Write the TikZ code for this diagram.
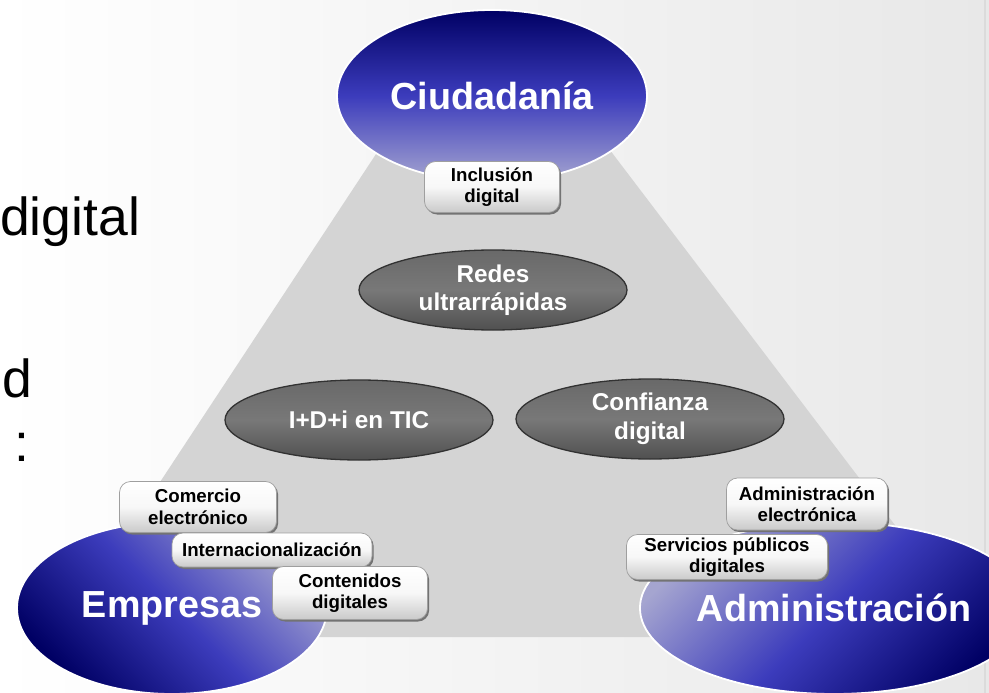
\documentclass[tikz,border=0pt]{standalone}
\usepackage{fontspec}
\setmainfont{Liberation Sans}
\usetikzlibrary{shapes.geometric}
\definecolor{navy}{RGB}{0,0,100}
\definecolor{midblue}{RGB}{60,60,188}
\definecolor{lav}{RGB}{165,165,208}
\definecolor{trapgray}{RGB}{212,212,212}
\definecolor{bgright}{RGB}{232,232,232}
\definecolor{darkfill}{RGB}{105,105,105}
\definecolor{darkfillb}{RGB}{80,80,80}
\definecolor{darkrim}{RGB}{50,50,50}
\tikzset{
  blueell/.style={ellipse, draw=white, line width=1.8pt, minimum width=310pt, minimum height=172pt,
    inner sep=0pt, text=white, font=\bfseries\fontsize{37.7}{40}\selectfont},
  darkell/.style={ellipse, draw=darkrim, line width=1.3pt, minimum width=268pt, minimum height=80pt,
    inner sep=0pt, top color=darkfill, bottom color=darkfillb, middle color=darkfill!90!white,
    text=white, align=center, font=\bfseries\fontsize{24.3}{28.5}\selectfont},
  lightbox/.style={rectangle, rounded corners=11pt, draw=gray!75, line width=0.7pt,
    top color=white, bottom color=gray!42, middle color=gray!6, inner sep=0pt,
    align=center, text=black, font=\bfseries\fontsize{18.7}{21.5}\selectfont,
    preaction={fill=black!55, rounded corners=11pt, transform canvas={xshift=1.6pt,yshift=-2pt}}},
  slidetext/.style={inner sep=0pt, text=black, font=\fontsize{53.5}{60}\selectfont}
}
\begin{document}
\begin{tikzpicture}[x=1pt,y=-1pt]
\useasboundingbox (0,0) rectangle (989,693);
% background
\shade[left color=white, right color=bgright] (0,0) rectangle (989,693);
\fill[black!14] (983.5,0) rectangle (986,693);
% left slide text fragments
\node[slidetext, anchor=base west] (t1) at (0,235) {digital};
\node[slidetext, anchor=base east] (t2) at (32,397) {d};
\node[slidetext, anchor=base] (t3) at (22,461) {:};
% trapezoid
\fill[trapgray] (457.7,30) -- (518.7,30) -- (980,637) -- (58,637) -- cycle;
% blue ellipses
\node[blueell, top color=navy, bottom color=lav, middle color=midblue] (ciu) at (492,96) {Ciudadanía};
\node[blueell, top color=lav, bottom color=navy, middle color=midblue, shading angle=-45] (emp) at (172,608) {Empresas};
\node[blueell, top color=lav, bottom color=navy, middle color=midblue, shading angle=45] (adm) at (834,608) {Administración};
% dark ellipses
\node[darkell] (redes) at (493,290) {Redes\\ultrarrápidas};
\node[darkell] (idi) at (359,420) {I+D+i en TIC};
\node[darkell] (conf) at (650,419) {Confianza\\digital};
% light boxes
\node[lightbox, minimum width=135pt, minimum height=51pt] (incl) at (492,187) {Inclusión\\digital};
\node[lightbox, minimum width=157pt, minimum height=51pt] (come) at (198,507) {Comercio\\electrónico};
\node[lightbox, minimum width=200pt, minimum height=34pt] (inte) at (272,550) {Internacionalización};
\node[lightbox, minimum width=155pt, minimum height=53pt] (cont) at (350,593) {Contenidos\\digitales};
\node[lightbox, minimum width=161pt, minimum height=52pt] (adme) at (807,504) {Administración\\electrónica};
\node[lightbox, minimum width=201pt, minimum height=45pt] (serv) at (727,557) {Servicios públicos\\digitales};
\end{tikzpicture}
\end{document}
